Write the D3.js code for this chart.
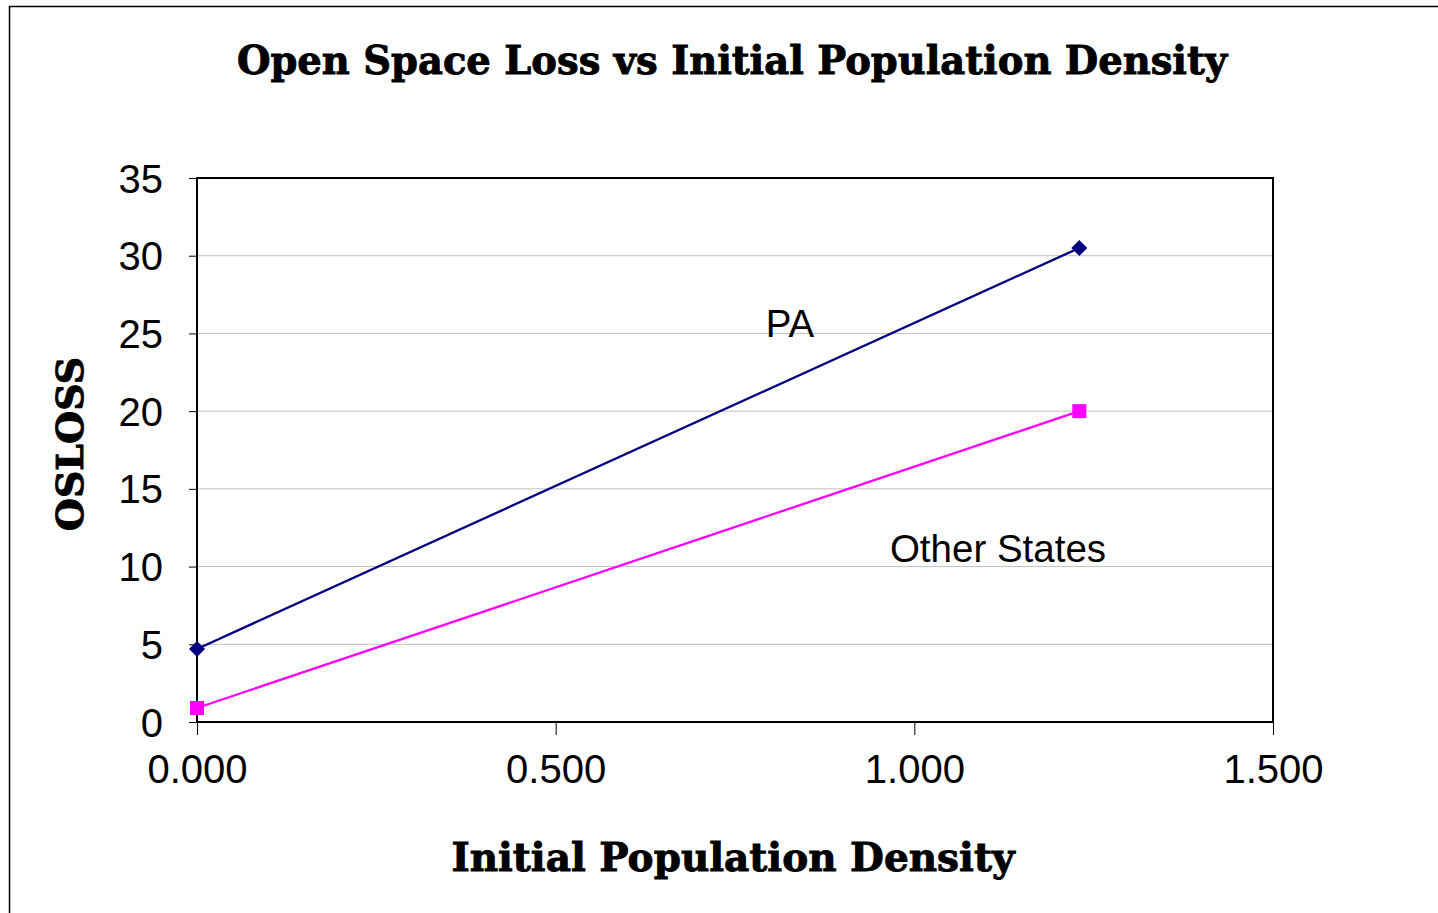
<!DOCTYPE html>
<html>
<head>
<meta charset="utf-8">
<script src="https://cdn.jsdelivr.net/npm/d3@7"></script>
<style>
  html, body { margin: 0; padding: 0; background: #fff; }
  svg { display: block; }
</style>
</head>
<body>
<svg id="chart" width="1438" height="913"></svg>
<script>
// Series data: initial population density (x) vs open space loss (y)
const seriesNames = ["PA", "Other States"];
const densityX = [0, 1.23];
const paLoss = [4.7, 30.5];
const otherLoss = [0.9, 20.0];
const yTicks = [0, 5, 10, 15, 20, 25, 30, 35];
const xTicks = [0, 0.5, 1.0, 1.5];

const svg = d3.select("#chart");
const W = 1438, H = 913;

// outer chart frame
svg.append("rect")
  .attr("x", 9.5).attr("y", 6.5)
  .attr("width", W + 20).attr("height", H + 20)
  .attr("fill", "#fff").attr("stroke", "#000").attr("stroke-width", 1.5);

const plot = { left: 197, right: 1273, top: 178, bottom: 722 };

const x = d3.scaleLinear().domain([0, 1.5]).range([plot.left, plot.right]);
const y = d3.scaleLinear().domain([0, 35]).range([plot.bottom, plot.top]);

// gridlines
svg.append("g")
  .selectAll("line")
  .data(yTicks.filter(d => d > 0 && d < 35))
  .join("line")
  .attr("x1", plot.left).attr("x2", plot.right)
  .attr("y1", d => y(d)).attr("y2", d => y(d))
  .attr("stroke", "#c0c0c0").attr("stroke-width", 1);

// axes
const yAxis = d3.axisLeft(y).tickValues(yTicks).tickSize(8).tickPadding(26).tickFormat(d3.format("d"));
const xAxis = d3.axisBottom(x).tickValues(xTicks).tickSize(13).tickPadding(20).tickFormat(d3.format(".3f"));

const gy = svg.append("g").attr("transform", `translate(${plot.left},0)`).call(yAxis);
const gx = svg.append("g").attr("transform", `translate(0,${plot.bottom})`).call(xAxis);

[gy, gx].forEach(g => {
  g.select(".domain").remove();
  g.selectAll(".tick line").attr("stroke", "#000").attr("stroke-width", 1);
  g.selectAll(".tick text")
    .attr("fill", "#000")
    .style("font-family", "'Liberation Sans', Arial, sans-serif")
    .style("font-size", "40px");
});
gy.selectAll(".tick text").attr("dy", "0.35em");

// plot area border
svg.append("rect")
  .attr("x", plot.left).attr("y", plot.top)
  .attr("width", plot.right - plot.left).attr("height", plot.bottom - plot.top)
  .attr("fill", "none").attr("stroke", "#000").attr("stroke-width", 2);

// series lines and markers
const line = d3.line().x(d => x(d[0])).y(d => y(d[1]));
const paPts = densityX.map((d, i) => [d, paLoss[i]]);
const otherPts = densityX.map((d, i) => [d, otherLoss[i]]);

svg.append("path").datum(otherPts).attr("d", line)
  .attr("fill", "none").attr("stroke", "#ff00ff").attr("stroke-width", 2.3);
svg.append("path").datum(paPts).attr("d", line)
  .attr("fill", "none").attr("stroke", "#000080").attr("stroke-width", 2.3);

svg.append("g").selectAll("rect")
  .data(otherPts).join("rect")
  .attr("x", d => x(d[0]) - 7).attr("y", d => y(d[1]) - 7)
  .attr("width", 14).attr("height", 14)
  .attr("fill", "#ff00ff");

svg.append("g").selectAll("path")
  .data(paPts).join("path")
  .attr("transform", d => `translate(${x(d[0])},${y(d[1])})`)
  .attr("d", "M0,-8L8,0L0,8L-8,0Z")
  .attr("fill", "#000080");

// series labels
const sans = "'Liberation Sans', Arial, sans-serif";
svg.append("text").attr("x", 790).attr("y", 337)
  .attr("text-anchor", "middle")
  .style("font-family", sans).style("font-size", "38.5px")
  .text(seriesNames[0]);
svg.append("text").attr("x", 998).attr("y", 562)
  .attr("text-anchor", "middle")
  .style("font-family", sans).style("font-size", "38.5px")
  .text(seriesNames[1]);

// titles (heavy serif, thickened with a thin stroke)
const serif = "'DejaVu Serif', 'Liberation Serif', serif";
function heavy(sel, size) {
  return sel.attr("text-anchor", "middle")
    .style("font-family", serif).style("font-weight", "bold").style("font-size", size + "px")
    .attr("fill", "#000").attr("stroke", "#000").attr("stroke-width", 0.9);
}
heavy(svg.append("text").attr("x", 732).attr("y", 74), 38.5)
  .text("Open Space Loss vs Initial Population Density");

heavy(svg.append("text").attr("x", 733).attr("y", 871), 39)
  .text("Initial Population Density");

heavy(svg.append("text").attr("transform", "translate(83,444) rotate(-90)"), 38)
  .text("OSLOSS");
</script>
</body>
</html>
